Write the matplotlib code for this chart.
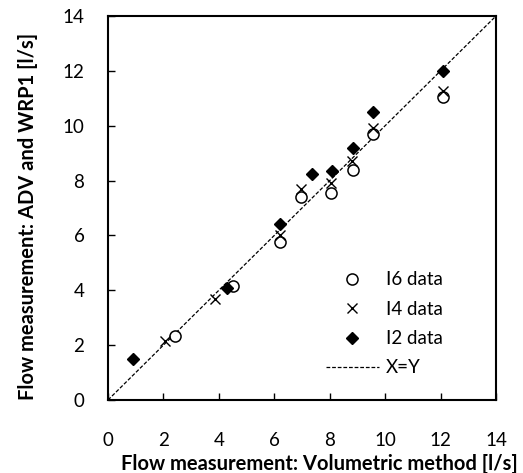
import matplotlib.pyplot as plt
import numpy as np

plt.rcParams['font.family'] = ['Lato', 'DejaVu Sans']

# I6 data (circles)
i6_x = [2.4, 4.5, 6.2, 6.95, 8.05, 8.85, 9.55, 12.1]
i6_y = [2.35, 4.15, 5.75, 7.4, 7.55, 8.4, 9.7, 11.05]
# I4 data (crosses)
i4_x = [2.05, 3.85, 6.2, 6.95, 8.05, 8.8, 9.55, 12.1]
i4_y = [2.15, 3.7, 6.0, 7.7, 7.9, 8.7, 9.9, 11.25]
# I2 data (diamonds)
i2_x = [0.9, 4.3, 6.2, 7.35, 8.1, 8.85, 9.55, 12.1]
i2_y = [1.5, 4.1, 6.4, 8.25, 8.35, 9.2, 10.5, 12.0]

ticks = [0, 2, 4, 6, 8, 10, 12, 14]

fig = plt.figure(figsize=(5.23, 4.73), dpi=100)
ax = fig.add_axes([108 / 523, 73 / 473, 388 / 523, 384 / 473])

ax.plot(i6_x, i6_y, 'o', mfc='white', mec='black', ms=8, mew=1.1, label='I6 data', zorder=3)
ax.plot(i4_x, i4_y, 'x', color='black', ms=7, mew=1.0, label='I4 data', zorder=3)
ax.plot(i2_x, i2_y, 'D', color='black', ms=6, label='I2 data', zorder=4)
ax.plot([0, 14], [0, 14], '--', color='black', lw=0.9, dashes=(3, 1.5), label='X=Y', zorder=2)

ax.set_xlim(0, 14)
ax.set_ylim(0, 14)
ax.set_xticks(ticks)
ax.set_yticks(ticks)
ax.tick_params(direction='in', length=5, width=1, labelsize=13.5)
ax.tick_params(axis='x', pad=23)
ax.tick_params(axis='y', pad=17)
for s in ax.spines.values():
    s.set_linewidth(1.5)

ax.set_xlabel('Flow measurement: Volumetric method [l/s]', fontsize=14.5, fontweight='bold', va='center')
ax.xaxis.set_label_coords(0.546, -0.167)
ax.set_ylabel('Flow measurement: ADV and WRP1 [l/s]', fontsize=14.5, fontweight='bold', va='center')
ax.yaxis.set_label_coords(-0.206, 0.477)

ax.legend(loc='upper left', bbox_to_anchor=(0.562, 0.335), frameon=False, fontsize=13.5,
          borderpad=0, borderaxespad=0, handlelength=2.8, labelspacing=0.66, handletextpad=0.4)

fig.savefig('out.png', dpi=100)
